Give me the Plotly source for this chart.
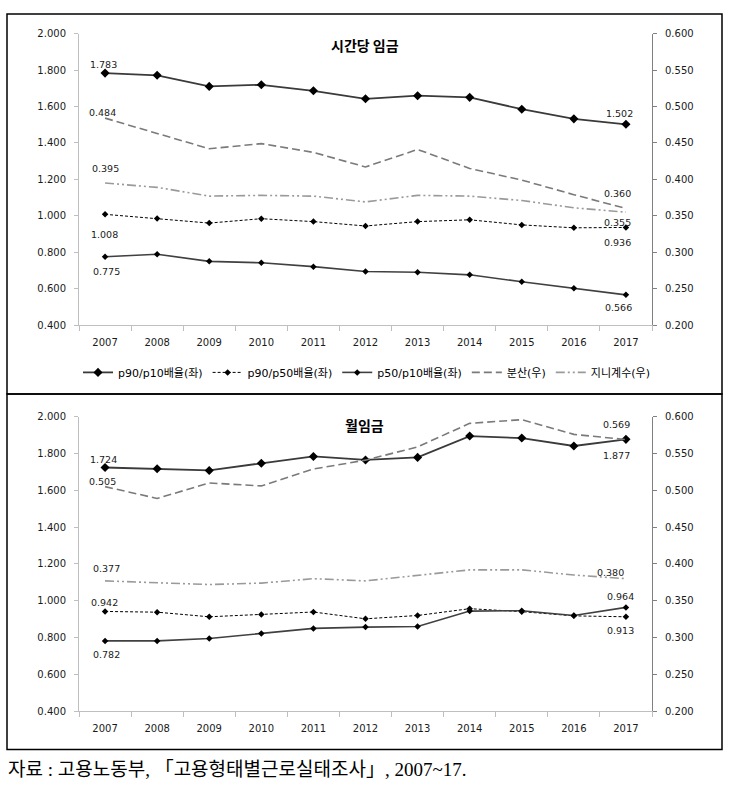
import plotly.graph_objects as go

years = ["2007", "2008", "2009", "2010", "2011", "2012", "2013", "2014", "2015", "2016", "2017"]

# 시간당 임금 (hourly wage)
h_p90p10 = [1.783, 1.771, 1.710, 1.719, 1.686, 1.642, 1.659, 1.650, 1.585, 1.532, 1.502]
h_p90p50 = [1.008, 0.985, 0.960, 0.984, 0.968, 0.944, 0.968, 0.978, 0.950, 0.934, 0.936]
h_p50p10 = [0.775, 0.789, 0.750, 0.742, 0.721, 0.694, 0.690, 0.676, 0.638, 0.602, 0.566]
h_var = [0.484, 0.4635, 0.442, 0.449, 0.437, 0.417, 0.441, 0.415, 0.399, 0.379, 0.360]
h_gini = [0.395, 0.389, 0.377, 0.378, 0.377, 0.369, 0.378, 0.377, 0.371, 0.361, 0.355]

# 월임금 (monthly wage)
m_p90p10 = [1.724, 1.717, 1.708, 1.747, 1.784, 1.765, 1.779, 1.895, 1.884, 1.841, 1.877]
m_p90p50 = [0.942, 0.938, 0.913, 0.925, 0.939, 0.902, 0.920, 0.957, 0.941, 0.918, 0.913]
m_p50p10 = [0.782, 0.782, 0.795, 0.822, 0.850, 0.857, 0.860, 0.944, 0.946, 0.920, 0.964]
m_var = [0.505, 0.489, 0.510, 0.506, 0.529, 0.541, 0.559, 0.591, 0.596, 0.576, 0.569]
m_gini = [0.377, 0.375, 0.372, 0.374, 0.380, 0.377, 0.384, 0.392, 0.392, 0.385, 0.380]

names = ["p90/p10배율(좌)", "p90/p50배율(좌)", "p50/p10배율(좌)", "분산(우)", "지니계수(우)"]

W, H = 733, 796
def px(x):
    return x / W
def py(y):
    return 1 - y / H

xi = list(range(len(years)))

styles = [
    dict(line=dict(color="#3a3a3a", width=1.8), marker=dict(symbol="diamond", size=7, color="black"), mode="lines+markers"),
    dict(line=dict(color="black", width=1, dash="3px,2px"), marker=dict(symbol="diamond", size=5, color="black"), mode="lines+markers"),
    dict(line=dict(color="#404040", width=1.6), marker=dict(symbol="diamond", size=5, color="black"), mode="lines+markers"),
    dict(line=dict(color="#7a7a7a", width=1.6, dash="8px,4px"), mode="lines"),
    dict(line=dict(color="#9a9a9a", width=1.6, dash="9px,3px,2px,3px,2px,3px"), mode="lines"),
]

fig = go.Figure()
top = [h_p90p10, h_p90p50, h_p50p10, h_var, h_gini]
bot = [m_p90p10, m_p90p50, m_p50p10, m_var, m_gini]
for i, (data, st) in enumerate(zip(top, styles)):
    fig.add_trace(go.Scatter(x=xi, y=data, name=names[i], xaxis="x", yaxis="y" if i < 3 else "y2",
                             showlegend=True, **st))
for i, (data, st) in enumerate(zip(bot, styles)):
    fig.add_trace(go.Scatter(x=xi, y=data, name=names[i], xaxis="x2", yaxis="y3" if i < 3 else "y4",
                             showlegend=False, **st))

tickfont = dict(family="DejaVu Sans", size=10, color="#1a1a1a")
xdom = [px(79), px(652)]
half = [i - 0.5 for i in range(len(years) + 1)]

def xax(anchor):
    return dict(domain=xdom, anchor=anchor, range=[-0.5, len(years) - 0.5], tickmode="array",
                tickvals=xi, ticktext=years, ticks="", showline=True, linecolor="#bfbfbf", linewidth=1,
                showgrid=False, zeroline=False, tickfont=tickfont, ticklabelstandoff=8,
                minor=dict(tickmode="array", tickvals=half, ticks="outside", ticklen=5, tickcolor="#bfbfbf", showgrid=False))

def yl(dom, anchor):
    return dict(domain=dom, anchor=anchor, range=[0.4, 2.0], dtick=0.2, tick0=0.4, tickformat=".3f",
                ticks="outside", ticklen=4, tickcolor="#bfbfbf", showline=True, linecolor="#bfbfbf",
                showgrid=False, zeroline=False, tickfont=tickfont, ticklabelstandoff=6)

def yr(over, anchor):
    return dict(overlaying=over, anchor=anchor, side="right", range=[0.2, 0.6], dtick=0.05, tick0=0.2,
                tickformat=".3f", ticks="outside", ticklen=4, tickcolor="#808080", showline=True,
                linecolor="#808080", showgrid=False, zeroline=False, tickfont=tickfont, ticklabelstandoff=6)

fig.update_layout(
    width=W, height=H, margin=dict(l=0, r=0, t=0, b=0),
    paper_bgcolor="white", plot_bgcolor="white",
    xaxis=xax("y"), yaxis=yl([py(324), py(28)], "x"), yaxis2=yr("y", "x"),
    xaxis2=xax("y3"), yaxis3=yl([py(716), py(417)], "x2"), yaxis4=yr("y3", "x2"),
    legend=dict(orientation="h", x=0.5, xanchor="center", y=py(372), yanchor="middle",
                font=dict(family="DejaVu Sans, Noto Sans CJK KR", size=11, color="black"),
                bgcolor="rgba(0,0,0,0)", itemwidth=30, tracegroupgap=0),
)

lblfont = dict(family="DejaVu Sans", size=9.5, color="#1a1a1a")
def lab(xr, yr_, xv, yv, dx, dy):
    fig.add_annotation(x=xv, y=yv, xref=xr, yref=yr_, text=f"{yv:.3f}", showarrow=False,
                       xshift=dx, yshift=dy, font=lblfont)

# top labels
lab("x", "y", 0, h_p90p10[0], -2, 9)
lab("x", "y2", 0, h_var[0], -3, 6)
lab("x", "y2", 0, h_gini[0], 0, 14)
lab("x", "y", 0, h_p90p50[0], -1, -20)
lab("x", "y", 0, h_p50p10[0], 1, -15)
lab("x", "y", 10, h_p90p10[10], -6, 11)
lab("x", "y2", 10, h_var[10], -8, 15)
lab("x", "y2", 10, h_gini[10], -8, -10)
lab("x", "y", 10, h_p90p50[10], -8, -15)
lab("x", "y", 10, h_p50p10[10], -7, -13)
# bottom labels
lab("x2", "y3", 0, m_p90p10[0], -2, 8)
lab("x2", "y4", 0, m_var[0], -3, 5)
lab("x2", "y4", 0, m_gini[0], 1, 12)
lab("x2", "y3", 0, m_p90p50[0], -1, 9)
lab("x2", "y3", 0, m_p50p10[0], 1, -14)
lab("x2", "y4", 10, m_var[10], -9, 15)
lab("x2", "y3", 10, m_p90p10[10], -9, -16)
lab("x2", "y4", 10, m_gini[10], -15, 6)
lab("x2", "y3", 10, m_p50p10[10], -5, 11)
lab("x2", "y3", 10, m_p90p50[10], -5, -14)

titlefont = dict(family="Noto Sans CJK KR", size=14, color="black")
fig.add_annotation(x=px(365), y=py(40), xref="paper", yref="paper", text="<b>시간당 임금</b>",
                   showarrow=False, font=titlefont, yanchor="middle")
fig.add_annotation(x=px(364), y=py(425), xref="paper", yref="paper", text="<b>월임금</b>",
                   showarrow=False, font=titlefont, yanchor="middle")
fig.add_annotation(x=px(6), y=py(775), xref="paper", yref="paper", xanchor="left", yanchor="middle",
                   text="자료 : 고용노동부, 「고용형태별근로실태조사」, 2007~17.", showarrow=False,
                   font=dict(family="Liberation Serif, Noto Sans CJK KR", size=19, color="black"))

for (y0, y1) in [(8, 394), (394, 755)]:
    fig.add_shape(type="rect", xref="paper", yref="paper", x0=px(7), x1=px(722), y0=py(y0), y1=py(y1),
                  line=dict(color="black", width=1.5), fillcolor="rgba(0,0,0,0)", layer="below")

fig.write_html("out.html", config={"displayModeBar": False},
               post_script="document.body.style.margin='0';document.body.style.overflow='hidden';")
